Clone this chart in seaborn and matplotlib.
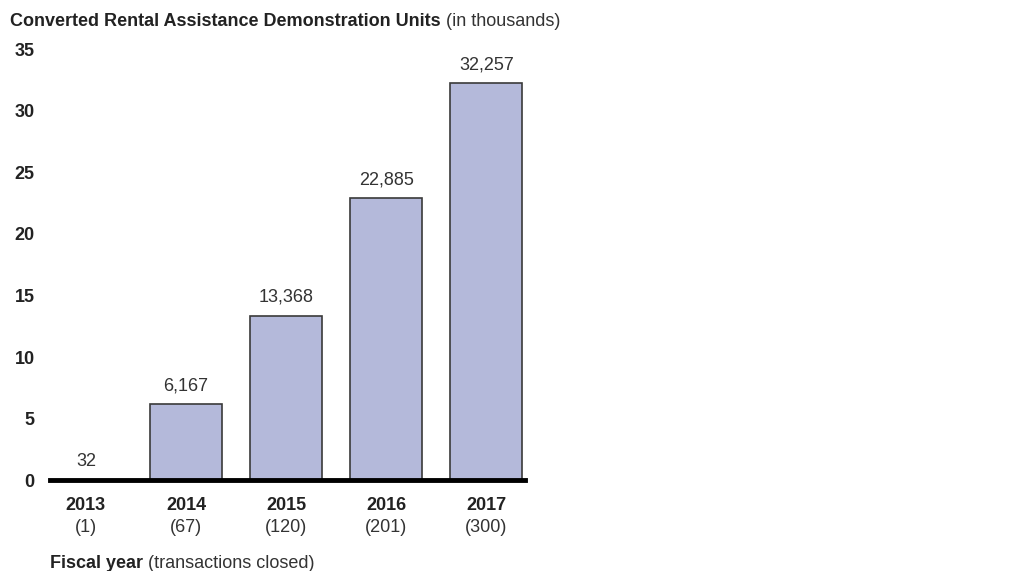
import matplotlib
matplotlib.use("Agg")
import matplotlib.pyplot as plt
import seaborn as sns
import pandas as pd
from matplotlib.transforms import blended_transform_factory, offset_copy

years = ["2013", "2014", "2015", "2016", "2017"]
transactions = ["(1)", "(67)", "(120)", "(201)", "(300)"]
units = [32, 6167, 13368, 22885, 32257]
units_thousands = [u / 1000 for u in units]
value_labels = ["32", "6,167", "13,368", "22,885", "32,257"]
yticks = [0, 5, 10, 15, 20, 25, 30, 35]

sns.set_theme(style="white")
plt.rcParams['font.family'] = ['Liberation Sans', 'DejaVu Sans']

FS = 13
df = pd.DataFrame({"year": years, "units": units_thousands})

fig = plt.figure(figsize=(10.18, 5.71), dpi=100)
ax = fig.add_axes([0.049, 0.159, 0.467, 0.755])
sns.barplot(data=df, x="year", y="units", color="#b4b9da", width=0.72,
            edgecolor="#3a3a3a", linewidth=1.2, saturation=1, ax=ax)

ax.set_ylim(0, 35)
ax.set_xlim(-0.36, 4.39)
ax.set_yticks(yticks)
ax.set_yticklabels([str(t) for t in yticks], fontsize=FS, fontweight="bold", color="#222222")
ax.tick_params(axis="y", length=0, pad=11)
ax.set_xticks([])
ax.set_xlabel("")
ax.set_ylabel("")
for s in ["top", "right", "left"]:
    ax.spines[s].set_visible(False)
ax.spines["bottom"].set_linewidth(3.5)
ax.spines["bottom"].set_color("black")

for i, (v, lab) in enumerate(zip(units_thousands, value_labels)):
    ax.text(i, v + 0.8, lab, ha="center", va="bottom", fontsize=FS, color="#333333")

trans = blended_transform_factory(ax.transData, ax.transAxes)
for i, (yr, tr) in enumerate(zip(years, transactions)):
    ax.text(i, -0.04, yr, transform=trans, ha="center", va="top",
            fontsize=FS, fontweight="bold", color="#222222")
    ax.text(i, -0.091, tr, transform=trans, ha="center", va="top",
            fontsize=FS, color="#333333")

fig.canvas.draw()
renderer = fig.canvas.get_renderer()

t1 = fig.text(0.010, 0.962, "Converted Rental Assistance Demonstration Units",
              fontsize=FS, fontweight="bold", color="#222222", va="center", ha="left")
fig.canvas.draw()
w = t1.get_window_extent(renderer).width
fig.text(0.010, 0.962, "(in thousands)", fontsize=FS, color="#333333", va="center", ha="left",
         transform=offset_copy(fig.transFigure, fig=fig, x=w + 5, y=0, units="dots"))

t2 = fig.text(0.049, 0.013, "Fiscal year", fontsize=FS, fontweight="bold",
              color="#222222", va="center", ha="left")
fig.canvas.draw()
w2 = t2.get_window_extent(renderer).width
fig.text(0.049, 0.013, "(transactions closed)", fontsize=FS, color="#333333", va="center", ha="left",
         transform=offset_copy(fig.transFigure, fig=fig, x=w2 + 5, y=0, units="dots"))

fig.savefig("out.png", dpi=100, facecolor="white")
